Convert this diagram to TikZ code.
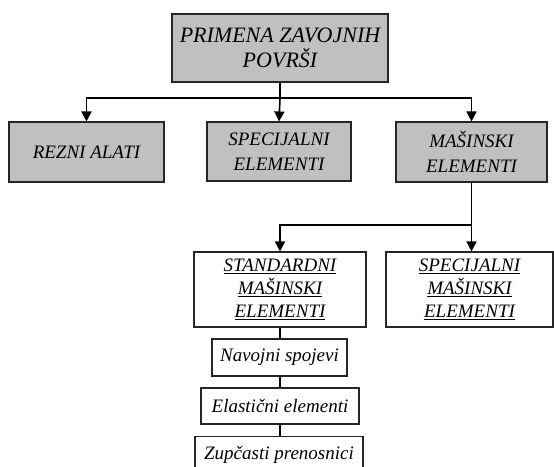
\documentclass[tikz,border=0pt]{standalone}
\usepackage{fontspec}
\setmainfont{Liberation Serif}
\usetikzlibrary{arrows.meta,calc}
\definecolor{boxgray}{RGB}{192,192,192}
\begin{document}
\begin{tikzpicture}[x=1pt,y=1pt,
  box/.style={draw=black!85, line width=1.1pt, align=center, inner sep=0pt,
    font=\fontsize{19}{25}\selectfont\itshape},
  graybox/.style={box, fill=boxgray},
  whitebox/.style={box, fill=white},
  ulbox/.style={whitebox, minimum height=75pt, font=\fontsize{19}{23}\selectfont\itshape},
  conn/.style={line width=1.6pt},
  arr/.style={conn, -{Triangle[length=10pt,width=10pt]}}
]
\clip (0,0) rectangle (554,466);
\fill[white] (0,0) rectangle (554,466);
% top
\node[graybox, minimum width=216pt, minimum height=68pt, font=\fontsize{22}{25.5}\selectfont\itshape]
  (top) at (280,418) {PRIMENA ZAVOJNIH\\POVRŠI};
% row 2
\node[graybox, minimum width=155pt, minimum height=60pt] (rezni) at (86.5,314) {REZNI ALATI};
\node[graybox, minimum width=144pt, minimum height=59pt] (spec) at (279,314.5) {SPECIJALNI\\ELEMENTI};
\node[graybox, minimum width=151pt, minimum height=60pt] (masin) at (471.5,314) {MAŠINSKI\\ELEMENTI};
% row 3
\node[ulbox, minimum width=172pt] (stand) at (280,176.5)
  {\underline{STANDARDNI}\\\underline{MAŠINSKI}\\\underline{ELEMENTI}};
\node[ulbox, minimum width=167pt] (specm) at (469.5,176.5)
  {\underline{SPECIJALNI}\\\underline{MAŠINSKI}\\\underline{ELEMENTI}};
% list
\node[whitebox, minimum width=135pt, minimum height=37pt] (nav) at (279.5,108.5) {Navojni spojevi};
\node[whitebox, minimum width=158pt, minimum height=36pt] (ela) at (280,60) {Elastični elementi};
\node[whitebox, minimum width=168pt, minimum height=37pt, anchor=north] (zup) at (279,30) {Zupčasti prenosnici};
% connectors
\coordinate (j1) at ($(top.south)+(0,-15.5)$);
\draw[conn] (top.south) -- (j1);
\draw[arr] (j1) -| (rezni.north);
\draw[arr] (j1) -- (spec.north);
\draw[arr] (j1) -| (masin.north);
\coordinate (j2) at ($(masin.south)+(0,-42.5)$);
\draw[conn] (masin.south) -- (j2);
\draw[arr] (j2) -| (stand.north);
\draw[arr] (j2) -- (j2 |- specm.north);
\draw[conn] (stand.south) -- (stand.south |- nav.north);
\draw[conn] (nav.south -| stand.south) -- (ela.north -| stand.south);
\draw[conn] (ela.south -| stand.south) -- (zup.north -| stand.south);
\end{tikzpicture}
\end{document}
